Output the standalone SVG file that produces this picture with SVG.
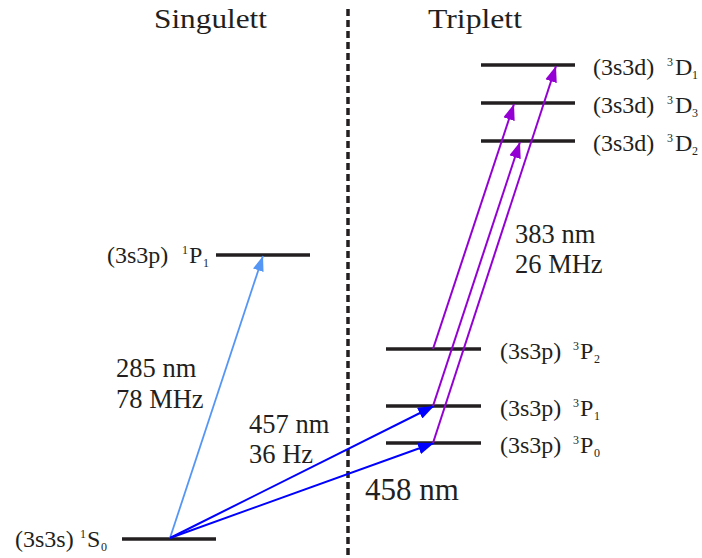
<svg xmlns="http://www.w3.org/2000/svg" width="702" height="558" viewBox="0 0 702 558">
<style>
text{font-family:"Liberation Serif","Times New Roman",serif;fill:#231f20}
.lab{font-size:24px}
.sm{font-size:12px}
.num{font-size:26.5px}
.title{font-size:28px}
.lvl{stroke:#231f20;stroke-width:3.5;fill:none}
.a1{stroke:#5596f5;stroke-width:1.8;fill:none}
.a2{stroke:#0000ff;stroke-width:2;fill:none}
.a3{stroke:#9400d3;stroke-width:2;fill:none}
</style>
<defs>
<marker id="mLB" markerUnits="userSpaceOnUse" markerWidth="15" markerHeight="11" refX="15" refY="5.5" orient="auto"><path d="M0,0 L15,5.5 L0,11 z" fill="#5596f5"/></marker>
<marker id="mB" markerUnits="userSpaceOnUse" markerWidth="16" markerHeight="12" refX="16" refY="6" orient="auto"><path d="M0,0 L16,6 L0,12 z" fill="#0000ff"/></marker>
<marker id="mP" markerUnits="userSpaceOnUse" markerWidth="16" markerHeight="12" refX="16" refY="6" orient="auto"><path d="M0,0 L16,6 L0,12 z" fill="#9400d3"/></marker>
</defs>
<rect width="702" height="558" fill="#fff"/>
<line x1="348" y1="9" x2="348" y2="558" stroke="#231f20" stroke-width="3.5" stroke-dasharray="7,4"/>
<text class="title" x="154" y="28" textLength="113" lengthAdjust="spacingAndGlyphs">Singulett</text>
<text class="title" x="428" y="28" textLength="94" lengthAdjust="spacingAndGlyphs">Triplett</text>

<g id="S0"><line class="lvl" x1="122" y1="539" x2="216" y2="539"/>
<text class="lab" x="15" y="547" font-size="25px">(3s3s)</text><text class="sm" x="80" y="538">1</text><text class="lab" x="87" y="547">S</text><text class="sm" x="101" y="551">0</text></g>
<g id="P1s"><line class="lvl" x1="216" y1="255" x2="310" y2="255"/>
<text class="lab" x="107" y="263">(3s3p)</text><text class="sm" x="182" y="254">1</text><text class="lab" x="189" y="263">P</text><text class="sm" x="203" y="267">1</text></g>

<g id="P0"><line class="lvl" x1="386" y1="443" x2="481" y2="443"/>
<text class="lab" x="500" y="453">(3s3p)</text><text class="sm" x="573" y="444">3</text><text class="lab" x="580" y="453">P</text><text class="sm" x="594" y="457">0</text></g>
<g id="P1"><line class="lvl" x1="386" y1="406" x2="481" y2="406"/>
<text class="lab" x="500" y="416">(3s3p)</text><text class="sm" x="573" y="407">3</text><text class="lab" x="580" y="416">P</text><text class="sm" x="594" y="420">1</text></g>
<g id="P2"><line class="lvl" x1="386" y1="349" x2="481" y2="349"/>
<text class="lab" x="500" y="359">(3s3p)</text><text class="sm" x="573" y="350">3</text><text class="lab" x="580" y="359">P</text><text class="sm" x="594" y="363">2</text></g>

<g id="D2"><line class="lvl" x1="481" y1="141" x2="575" y2="141"/>
<text class="lab" x="593" y="151">(3s3d)</text><text class="sm" x="667" y="142">3</text><text class="lab" x="675" y="151">D</text><text class="sm" x="692" y="155">2</text></g>
<g id="D3"><line class="lvl" x1="481" y1="103" x2="575" y2="103"/>
<text class="lab" x="593" y="113">(3s3d)</text><text class="sm" x="667" y="104">3</text><text class="lab" x="675" y="113">D</text><text class="sm" x="692" y="117">3</text></g>
<g id="D1"><line class="lvl" x1="481" y1="65" x2="575" y2="65"/>
<text class="lab" x="593" y="75">(3s3d)</text><text class="sm" x="667" y="66">3</text><text class="lab" x="675" y="75">D</text><text class="sm" x="692" y="79">1</text></g>

<g id="connectors">
<line class="a1" x1="170" y1="538" x2="263" y2="256" marker-end="url(#mLB)"/>
<line class="a2" x1="170" y1="538" x2="434" y2="406" marker-end="url(#mB)"/>
<line class="a2" x1="170" y1="538" x2="434" y2="443" marker-end="url(#mB)"/>
<line class="a3" x1="433" y1="349" x2="514" y2="104" marker-end="url(#mP)"/>
<line class="a3" x1="433" y1="406" x2="520" y2="142" marker-end="url(#mP)"/>
<line class="a3" x1="433" y1="443" x2="556" y2="66" marker-end="url(#mP)"/>
</g>

<g id="labels">
<text class="num" x="116" y="377">285 nm</text>
<text class="num" x="116" y="408">78 MHz</text>
<text class="num" x="249" y="433">457 nm</text>
<text class="num" x="249" y="463">36 Hz</text>
<text class="num" x="515" y="243">383 nm</text>
<text class="num" x="515" y="273">26 MHz</text>
<text x="365" y="500" font-size="31px">458 nm</text>
</g>
</svg>
